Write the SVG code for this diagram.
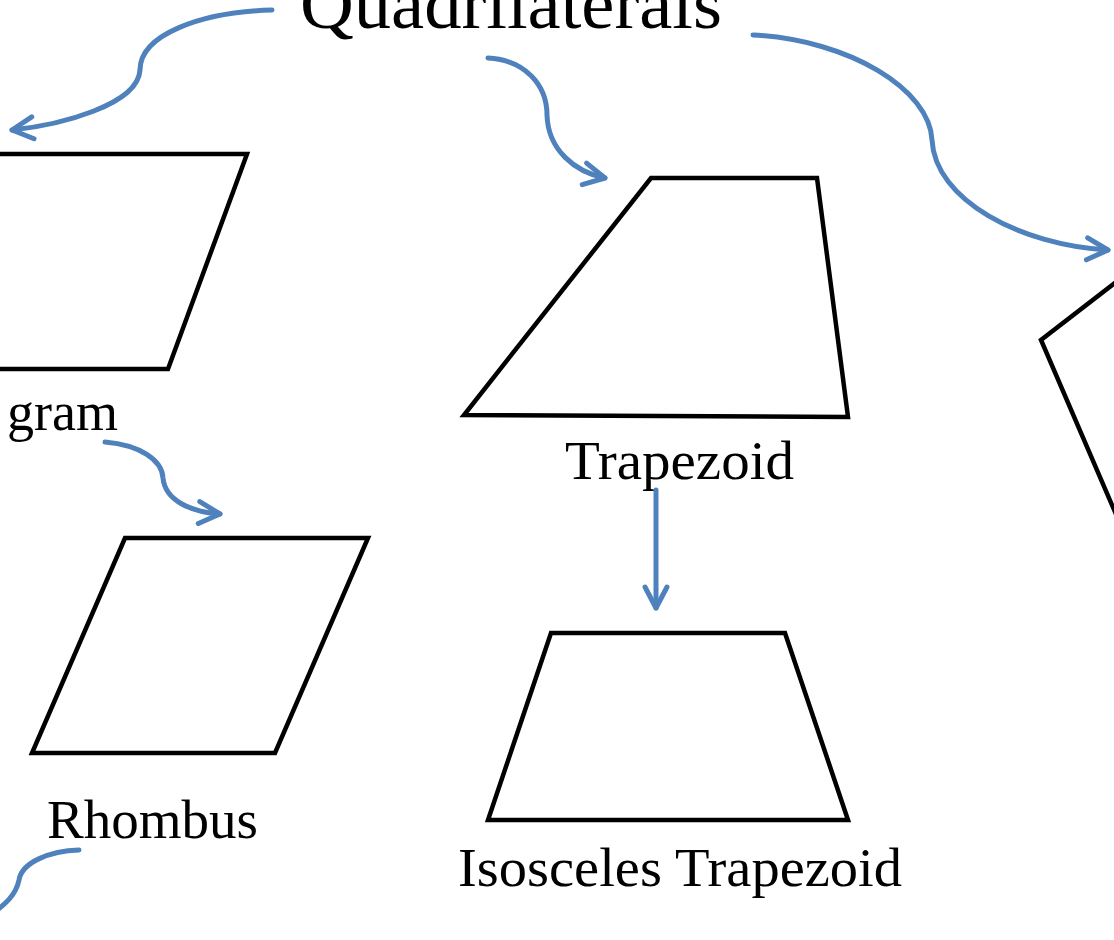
<svg xmlns="http://www.w3.org/2000/svg" width="1114" height="940" viewBox="0 0 1114 940">
<defs>
<marker id="chev" markerUnits="userSpaceOnUse" markerWidth="40" markerHeight="40" refX="0" refY="0" orient="auto" overflow="visible">
<path d="M-21,-11 L0,0 L-21,11" fill="none" stroke="#4F81BD" stroke-width="5" stroke-linecap="round" stroke-linejoin="round"/>
</marker>
</defs>
<style>
.shape{fill:none;stroke:#000;stroke-width:4.5;stroke-linejoin:miter}
.lbl{font-family:"Liberation Serif","Times New Roman",serif;fill:#000}
.conn{fill:none;stroke:#4F81BD;stroke-width:5;stroke-linecap:round}
</style>
<rect width="1114" height="940" fill="#fff"/>
<g id="quadrilaterals">
<text class="lbl" x="300" y="28" font-size="72" textLength="422" lengthAdjust="spacingAndGlyphs">Quadrilaterals</text>
</g>
<g id="parallelogram">
<polygon class="shape" points="-100,154 247,154 168,369 -180,369"/>
<text class="lbl" x="118" y="430" font-size="54" text-anchor="end">gram</text>
</g>
<g id="trapezoid">
<polygon class="shape" points="651,178 817,178 848,417 464,415"/>
<text class="lbl" x="565" y="479" font-size="54" textLength="229" lengthAdjust="spacingAndGlyphs">Trapezoid</text>
</g>
<g id="rhombus">
<polygon class="shape" points="125,538 368,538 275,753 32,753"/>
<text class="lbl" x="47" y="838" font-size="54" textLength="211" lengthAdjust="spacingAndGlyphs">Rhombus</text>
</g>
<g id="isosceles-trapezoid">
<polygon class="shape" points="551,633 785,633 848,820 488,820"/>
<text class="lbl" x="458" y="886" font-size="54" textLength="444" lengthAdjust="spacingAndGlyphs">Isosceles Trapezoid</text>
</g>
<g id="right-shape">
<polygon class="shape" points="1160,248 1041,340 1140,570"/>
</g>
<g id="connectors">
<path class="conn" marker-end="url(#chev)" d="M272,10 C200,12 140,35 140,70 C138,105 60,125 12,130"/>
<path class="conn" marker-end="url(#chev)" d="M488,58 C525,60 547,85 547,115 C548,150 575,172 605,178"/>
<path class="conn" marker-end="url(#chev)" d="M753,35 C850,40 930,90 932,140 C935,200 1020,245 1108,250"/>
<path class="conn" marker-end="url(#chev)" d="M105,442 C140,445 162,460 163,478 C165,500 190,512 220,514"/>
<path class="conn" d="M79,850 C50,851 22,862 19,880 C16,895 5,905 -10,915"/>
<path class="conn" marker-end="url(#chev)" d="M656,490 L656,608"/>
</g>
</svg>
